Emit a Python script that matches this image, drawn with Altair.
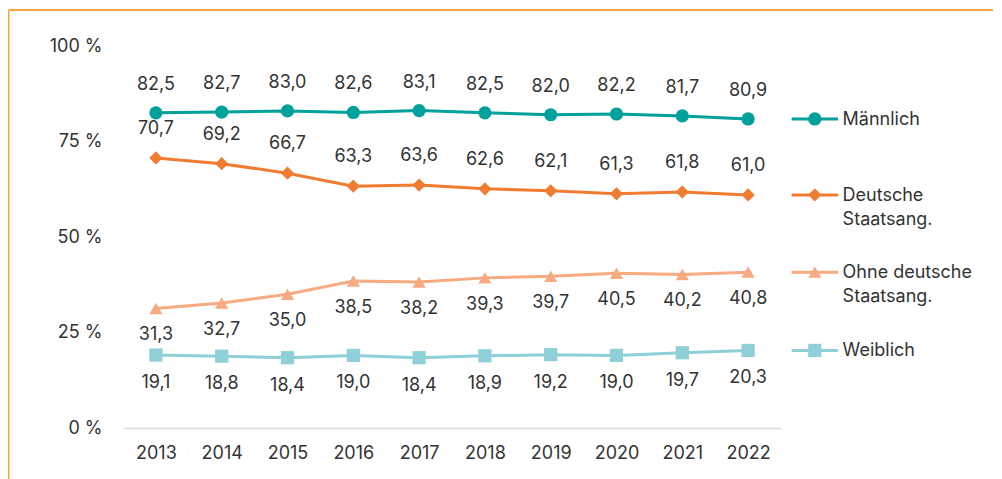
import altair as alt
import pandas as pd

years = [2013, 2014, 2015, 2016, 2017, 2018, 2019, 2020, 2021, 2022]
maennlich = [82.5, 82.7, 83.0, 82.6, 83.1, 82.5, 82.0, 82.2, 81.7, 80.9]
deutsche = [70.7, 69.2, 66.7, 63.3, 63.6, 62.6, 62.1, 61.3, 61.8, 61.0]
ohne = [31.3, 32.7, 35.0, 38.5, 38.2, 39.3, 39.7, 40.5, 40.2, 40.8]
weiblich = [19.1, 18.8, 18.4, 19.0, 18.4, 18.9, 19.2, 19.0, 19.7, 20.3]

series_names = ["Männlich", "Deutsche Staatsang.", "Ohne deutsche Staatsang.", "Weiblich"]
legend_labels = ["Männlich", "Deutsche|Staatsang.", "Ohne deutsche|Staatsang.", "Weiblich"]
series_values = [maennlich, deutsche, ohne, weiblich]
y_ticks = [0, 25, 50, 75, 100]

colors = ["#00a19b", "#f07c32", "#f8aa82", "#8fd0d8"]
shapes = ["circle", "diamond", "triangle-up", "square"]
label_dy = [-28, -29, 27, 28]

FONT = "Inter"
TXT = "#333333"

rows = []
for name, leg, vals in zip(series_names, legend_labels, series_values):
    for yr, v in zip(years, vals):
        rows.append({"year": yr, "series": name, "legend": leg, "value": v})
df = pd.DataFrame(rows)

x_enc = alt.X(
    "year:O",
    scale=alt.Scale(type="point", padding=0.5),
    axis=alt.Axis(
        title=None, labelAngle=0, ticks=False, grid=False,
        domainColor="#d9d9d9", domainWidth=1.5,
        labelFont=FONT, labelFontSize=18, labelColor=TXT, labelPadding=16,
    ),
)
y_enc = alt.Y(
    "value:Q",
    scale=alt.Scale(domain=[0, 100], nice=False),
    axis=alt.Axis(
        title=None, values=y_ticks, ticks=False, grid=False, domain=False,
        labelExpr="datum.value + ' %'",
        labelFont=FONT, labelFontSize=18, labelColor=TXT, labelPadding=21,
    ),
)

base = alt.Chart(df).transform_calculate(
    label="replace(format(datum.value, '.1f'), '.', ',')"
)

layers = []
for i, name in enumerate(series_names):
    s = base.transform_filter(alt.datum.series == name)
    col = colors[i]
    line = s.mark_line(color=col, strokeWidth=3).encode(x=x_enc, y=y_enc)
    pts = s.mark_point(shape=shapes[i], filled=True, size=175, color=col, opacity=1).encode(
        x=x_enc, y=y_enc
    )
    txt = s.mark_text(dy=label_dy[i], font=FONT, fontSize=18, color=TXT).encode(
        x=x_enc, y=y_enc, text="label:N"
    )
    last = s.transform_filter(alt.datum.year == years[-1])
    leg_rule = last.mark_rule(color=col, strokeWidth=3, xOffset=43.5, x2Offset=90).encode(
        x=x_enc, x2="year:O", y=y_enc
    )
    leg_pt = last.mark_point(
        shape=shapes[i], filled=True, size=175, color=col, opacity=1, xOffset=66.7
    ).encode(x=x_enc, y=y_enc)
    leg_txt = last.mark_text(
        align="left", baseline="top", dx=94.5, dy=-8, lineBreak="|", lineHeight=24,
        font=FONT, fontSize=18, color=TXT,
    ).encode(x=x_enc, y=y_enc, text="legend:N")
    layers += [line, pts, txt, leg_rule, leg_pt, leg_txt]

frame_df = pd.DataFrame({"a": [0]})
border_color = "#f6a63c"
top_border = alt.Chart(frame_df).mark_rule(color=border_color, strokeWidth=2).encode(
    x=alt.value(-114.5), x2=alt.value(875), y=alt.value(-36)
)
left_border = alt.Chart(frame_df).mark_rule(color=border_color, strokeWidth=2).encode(
    x=alt.value(-114.5), y=alt.value(-36), y2=alt.value(440)
)

chart = alt.layer(top_border, left_border, *layers).properties(
    width=658,
    height=382,
    padding={"left": 115, "top": 38, "right": 212, "bottom": 51},
    autosize=alt.AutoSizeParams(type="none"),
    background="white",
).configure_view(stroke=None)

chart.save("out.html", embed_options={"renderer": "svg", "actions": False})
